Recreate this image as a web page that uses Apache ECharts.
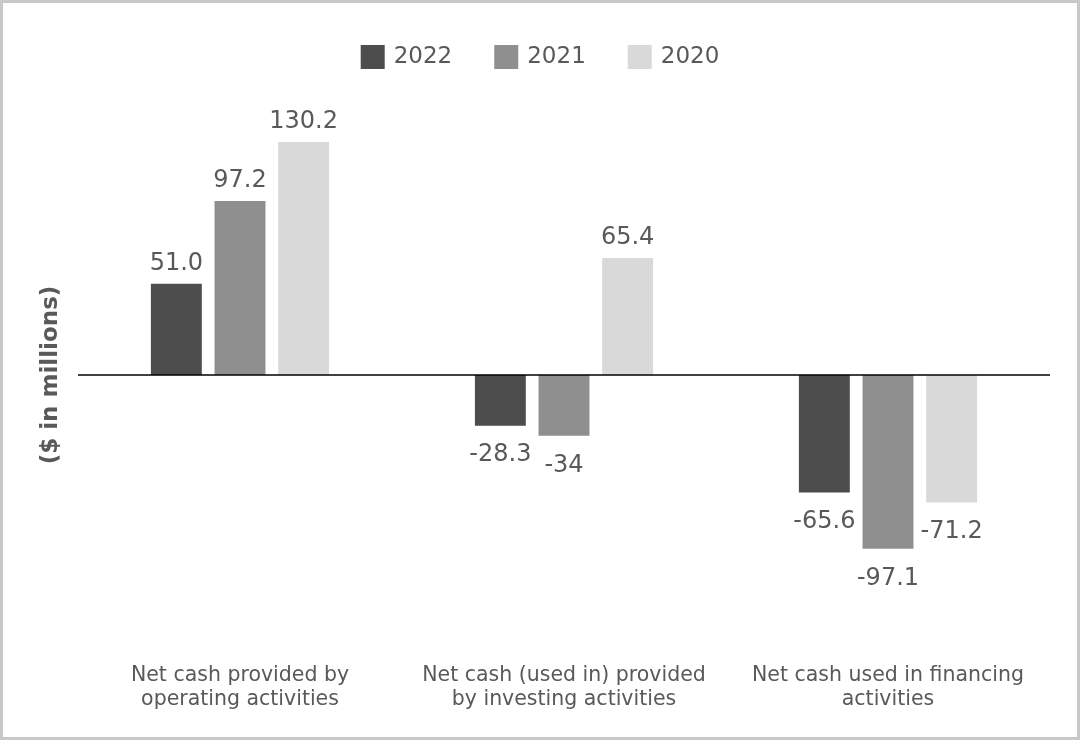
<!DOCTYPE html>
<html><head><meta charset="utf-8">
<script src="https://cdn.jsdelivr.net/npm/echarts@6/dist/echarts.min.js"></script>
<style>html,body{margin:0;padding:0;background:#fff}#c{width:1080px;height:740px}</style>
</head><body><div id="c"></div>
<script>
const categories = ["Net cash provided by\noperating activities", "Net cash (used in) provided\nby investing activities", "Net cash used in financing\nactivities"];
const seriesNames = ["2022", "2021", "2020"];
const values2022 = [51.0, -28.3, -65.6];
const values2021 = [97.2, -34, -97.1];
const values2020 = [130.2, 65.4, -71.2];
const labels2022 = ["51.0", "-28.3", "-65.6"];
const labels2021 = ["97.2", "-34", "-97.1"];
const labels2020 = ["130.2", "65.4", "-71.2"];
const colors = ["#4d4d4d", "#8f8f8f", "#d9d9d9"];
const font = "Verdana, 'DejaVu Sans', sans-serif";

function mk(name, vals, labs, color, withLine) {
  const s = {
    name: name, type: 'bar', barGap: '25%', barCategoryGap: '45%',
    itemStyle: {color: color},
    data: vals.map((v, i) => ({
      value: v,
      label: {show: true, position: v >= 0 ? 'top' : 'bottom', distance: v >= 0 ? 8 : 17.5,
        formatter: labs[i], color: '#595959', fontSize: 24, fontFamily: font}
    }))
  };
  if (withLine) {
    s.markLine = {silent: true, symbol: 'none', label: {show: false},
      lineStyle: {color: '#000', width: 1.5, type: 'solid'}, data: [{yAxis: 0}]};
  }
  return s;
}

const chart = echarts.init(document.getElementById('c'));
chart.setOption({
  animation: false,
  graphic: [{type: 'rect', shape: {x: 1.5, y: 1.5, width: 1077, height: 737},
    style: {fill: 'none', stroke: '#c8c8c8', lineWidth: 3}, z: 100}],
  legend: {top: 40, left: 'center', icon: 'rect', itemWidth: 24, itemHeight: 24, itemGap: 42,
    textStyle: {color: '#595959', fontSize: 23, fontFamily: font, padding: [0, 0, 0, 4]},
    data: seriesNames},
  grid: {left: 78, right: 30, top: 124.4, bottom: 114.4},
  xAxis: {type: 'category', data: categories,
    axisLine: {show: false}, axisTick: {show: false},
    axisLabel: {interval: 0, hideOverlap: false, margin: 38, color: '#595959', fontSize: 20.5, lineHeight: 24, fontFamily: font}},
  yAxis: {type: 'value', min: -140, max: 140,
    name: '($ in millions)', nameLocation: 'middle', nameGap: 15, nameRotate: 90,
    nameTextStyle: {color: '#595959', fontSize: 23, fontWeight: 'bold', fontFamily: font},
    axisLabel: {show: false}, axisLine: {show: false}, axisTick: {show: false}, splitLine: {show: false}},
  series: [
    mk(seriesNames[0], values2022, labels2022, colors[0], true),
    mk(seriesNames[1], values2021, labels2021, colors[1], false),
    mk(seriesNames[2], values2020, labels2020, colors[2], false)
  ]
});
</script></body></html>
